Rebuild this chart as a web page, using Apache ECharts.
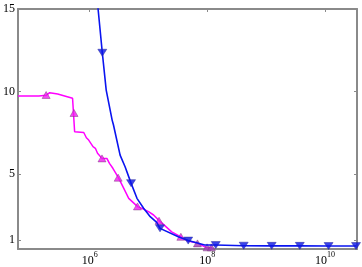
<!DOCTYPE html>
<html>
<head>
<meta charset="utf-8">
<script src="https://cdn.jsdelivr.net/npm/echarts@6/dist/echarts.min.js"></script>
<style>
html,body{margin:0;padding:0;background:#fff;}
#chart{width:362px;height:267px;}
</style>
</head>
<body>
<div id="chart"></div>
<script>
// Magenta curve (triangle-up markers)
var magentaX = [6.05e4, 1.37e5, 1.82e5, 2.09e5, 2.86e5, 3.75e5, 5.12e5, 5.52e5, 5.55e5, 7.93e5, 8.79e5, 9.62e5, 1.14e6, 1.25e6, 1.36e6, 1.62e6, 1.96e6, 2.17e6, 2.48e6, 3.08e6, 3.80e6, 4.61e6, 4.91e6, 6.53e6, 7.73e6, 1.00e7, 1.22e7, 1.52e7, 2.48e7, 3.55e7, 4.73e7, 6.79e7, 9.82e7, 1.20e8];
var magentaY = [9.73, 9.73, 9.77, 9.93, 9.85, 9.73, 9.59, 9.53, 7.56, 7.52, 7.20, 7.06, 6.66, 6.56, 6.26, 5.95, 5.95, 5.65, 5.35, 4.78, 4.13, 3.53, 3.42, 3.03, 2.92, 2.72, 2.52, 2.18, 1.50, 1.20, 0.94, 0.82, 0.53, 0.53];
var magentaMarkX = [1.82e5, 5.42e5, 1.62e6, 3.05e6, 6.49e6, 1.51e7, 3.55e7, 6.79e7, 9.89e7, 1.17e8];
var magentaMarkY = [9.79, 8.70, 5.95, 4.78, 3.04, 2.17, 1.20, 0.80, 0.56, 0.56];

// Blue curve (triangle-down markers)
var blueX = [1.26e6, 1.39e6, 1.64e6, 1.91e6, 2.41e6, 2.54e6, 3.29e6, 4.00e6, 4.72e6, 5.05e6, 6.37e6, 8.26e6, 1.07e7, 1.38e7, 1.57e7, 3.21e7, 4.73e7, 9.02e7, 1.39e8, 4.15e8, 1.24e9, 3.73e9, 1.15e10, 3.37e10];
var blueY = [16.9, 15.0, 12.35, 10.09, 8.27, 7.97, 6.15, 5.44, 4.74, 4.45, 3.53, 2.93, 2.42, 2.07, 1.71, 1.20, 0.97, 0.70, 0.70, 0.66, 0.65, 0.65, 0.64, 0.64];
var blueMarkX = [1.64e6, 5.05e6, 1.57e7, 4.73e7, 1.39e8, 4.15e8, 1.24e9, 3.73e9, 1.15e10, 3.37e10];
var blueMarkY = [12.35, 4.45, 1.71, 0.97, 0.70, 0.66, 0.65, 0.65, 0.64, 0.64];

// Axes
var xMin = 6.05e4, xMax = 3.5e10;
var yMin = 0.46, yMax = 15;
var yTicks = [1, 5, 10, 15];

function pairs(xs, ys) { return xs.map(function (x, i) { return [x, ys[i]]; }); }

var FONT = '"Liberation Serif","DejaVu Serif",serif';
var AXIS_COLOR = '#8a8a8a';

var chart = echarts.init(document.getElementById('chart'), null, {renderer: 'canvas'});
chart.setOption({
  animation: false,
  backgroundColor: '#ffffff',
  grid: {left: 15, right: 5, top: 9, bottom: 18, containLabel: false},
  xAxis: [{
    type: 'log', logBase: 100, min: xMin, max: xMax, position: 'bottom',
    axisLine: {show: true, onZero: false, lineStyle: {color: AXIS_COLOR, width: 2}},
    axisTick: {show: false},
    splitLine: {show: false},
    axisLabel: {
      show: true, margin: 2, showMinLabel: false, showMaxLabel: false,
      formatter: function (v) { return '{b|10}{s|' + Math.round(Math.log10(v)) + '}'; },
      rich: {
        b: {fontFamily: FONT, fontSize: 12, color: '#000', lineHeight: 16, verticalAlign: 'bottom'},
        s: {fontFamily: FONT, fontSize: 8, color: '#000', lineHeight: 16, verticalAlign: 'top'}
      }
    }
  }, {
    type: 'log', logBase: 100, min: xMin, max: xMax, position: 'top',
    axisLine: {show: true, onZero: false, lineStyle: {color: AXIS_COLOR, width: 2}},
    axisTick: {show: true, inside: true, length: 3, lineStyle: {color: AXIS_COLOR, width: 1}},
    axisLabel: {show: false}, splitLine: {show: false}
  }],
  yAxis: [{
    type: 'value', min: yMin, max: yMax, position: 'left',
    axisLine: {show: true, onZero: false, lineStyle: {color: AXIS_COLOR, width: 2}},
    axisTick: {show: true, inside: true, length: 3, customValues: yTicks, lineStyle: {color: AXIS_COLOR, width: 1}},
    axisLabel: {show: true, margin: 3, customValues: yTicks, fontFamily: FONT, fontSize: 12, color: '#000'},
    splitLine: {show: false}
  }, {
    type: 'value', min: yMin, max: yMax, position: 'right',
    axisLine: {show: true, onZero: false, lineStyle: {color: AXIS_COLOR, width: 2}},
    axisTick: {show: true, inside: true, length: 3, customValues: yTicks, lineStyle: {color: AXIS_COLOR, width: 1}},
    axisLabel: {show: false}, splitLine: {show: false}
  }],
  series: [{
    type: 'line', xAxisIndex: 0, yAxisIndex: 0, data: pairs(magentaX, magentaY),
    showSymbol: false, symbol: 'none', clip: true,
    lineStyle: {color: '#ff00ff', width: 1.5}, z: 2
  }, {
    type: 'scatter', xAxisIndex: 0, yAxisIndex: 0, data: pairs(magentaMarkX, magentaMarkY),
    symbol: 'triangle', symbolSize: [8, 7],
    itemStyle: {
      color: function (p) { return p.dataIndex >= 7 ? '#a23cb8' : '#f01cf0'; },
      borderColor: '#7a3a7a', borderWidth: 0.6
    }, z: 3
  }, {
    type: 'line', xAxisIndex: 0, yAxisIndex: 0, data: pairs(blueX, blueY),
    showSymbol: false, symbol: 'none', clip: true,
    lineStyle: {color: '#0a14f0', width: 1.6}, z: 4
  }, {
    type: 'scatter', xAxisIndex: 0, yAxisIndex: 0, data: pairs(blueMarkX, blueMarkY),
    symbol: 'triangle', symbolRotate: 180, symbolSize: [9, 7],
    itemStyle: {color: '#0a14e6', borderColor: '#2a2a9a', borderWidth: 0.6}, z: 5
  }]
});
</script>
</body>
</html>
